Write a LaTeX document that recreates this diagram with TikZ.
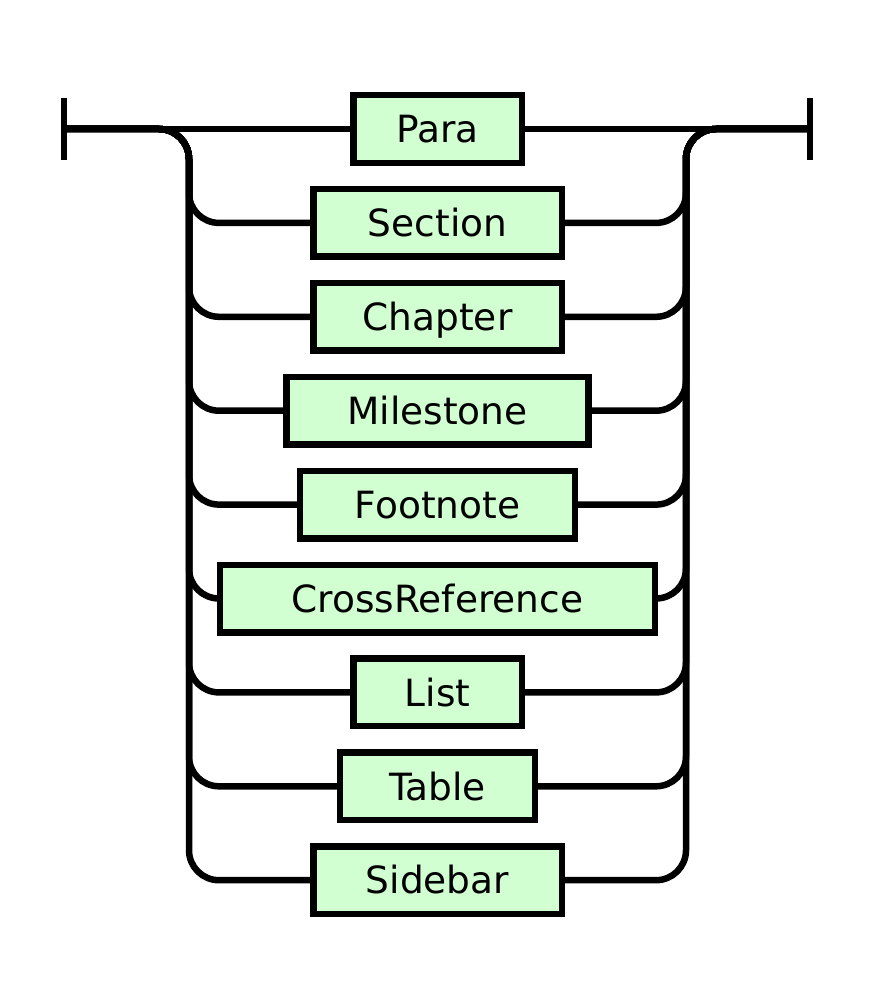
\documentclass[tikz,border=0pt]{standalone}
\usepackage{fontspec}
\setmainfont{DejaVu Sans}
\usetikzlibrary{positioning}

\definecolor{termgreen}{RGB}{210,255,210}

\begin{document}
\begin{tikzpicture}[
        x=1pt, y=1pt,
        node distance=26.4pt,
        term/.style={rectangle, draw=black, line width=6.5pt, fill=termgreen, minimum height=67.5pt, inner sep=0pt, outer sep=0pt, text height=27.5pt, text depth=0pt, font=\fontsize{37.5}{45}\selectfont},
        rail/.style={line width=6.5pt, black, rounded corners=30pt}
    ]
        \useasboundingbox (0,0) rectangle (872,-1006);
        \coordinate (start) at (64,-129);
        \coordinate (stop) at (810,-129);
        \coordinate (lrail) at (189,-129);
        \coordinate (rrail) at (686,-129);
        \node[term, minimum width=168.5pt] (para) at (437.5,-129) {Para};
        \node[term, below=of para, minimum width=248.5pt] (section) {Section};
        \node[term, below=of section, minimum width=248.5pt] (chapter) {Chapter};
        \node[term, below=of chapter, minimum width=302pt] (milestone) {Milestone};
        \node[term, below=of milestone, minimum width=275pt] (footnote) {Footnote};
        \node[term, below=of footnote, minimum width=435pt] (crossref) {CrossReference};
        \node[term, below=of crossref, minimum width=168.5pt] (list) {List};
        \node[term, below=of list, minimum width=195pt] (table) {Table};
        \node[term, below=of table, minimum width=248.5pt] (sidebar) {Sidebar};
        % start and end bars
        \draw[rail] ([yshift=31pt]start) -- ([yshift=-31pt]start);
        \draw[rail] ([yshift=31pt]stop) -- ([yshift=-31pt]stop);
        % main line
        \draw[rail] (start) -- (para.west) (para.east) -- (stop);
        % branches
        \draw[rail] (start) -- (lrail) |- (section.west) (section.east) -| (rrail) -- (stop);
        \draw[rail] (start) -- (lrail) |- (chapter.west) (chapter.east) -| (rrail) -- (stop);
        \draw[rail] (start) -- (lrail) |- (milestone.west) (milestone.east) -| (rrail) -- (stop);
        \draw[rail] (start) -- (lrail) |- (footnote.west) (footnote.east) -| (rrail) -- (stop);
        \draw[rail] (start) -- (lrail) |- (crossref.west) (crossref.east) -| (rrail) -- (stop);
        \draw[rail] (start) -- (lrail) |- (list.west) (list.east) -| (rrail) -- (stop);
        \draw[rail] (start) -- (lrail) |- (table.west) (table.east) -| (rrail) -- (stop);
        \draw[rail] (start) -- (lrail) |- (sidebar.west) (sidebar.east) -| (rrail) -- (stop);
    \end{tikzpicture}
\end{document}
